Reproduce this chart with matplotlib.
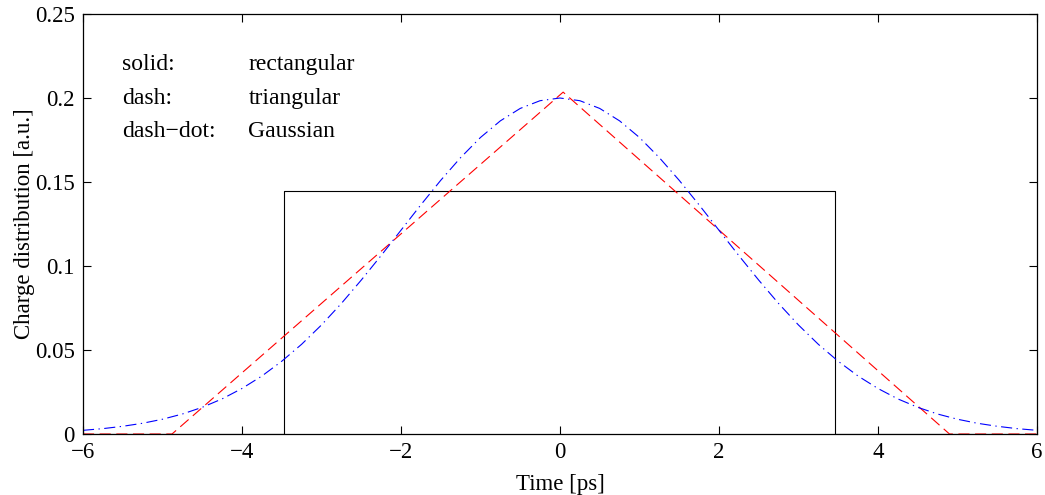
import numpy as np
import matplotlib
matplotlib.use("Agg")
import matplotlib.pyplot as plt

plt.rcParams["font.family"] = ["Liberation Serif", "DejaVu Serif"]

# rectangular profile (solid black)
rect_t = [-6.0, -3.47, -3.47, 3.46, 3.46, 6.0]
rect_q = [0.0, 0.0, 0.1445, 0.1445, 0.0, 0.0]

# triangular profile (dashed red)
tri_t = [-6.0, -4.88, 0.04, 4.9, 6.0]
tri_q = [0.0, 0.0, 0.2035, 0.0, 0.0]

# gaussian profile (dash-dot blue), read every 0.25 ps
gauss_t = [-6.0 + 0.25 * k for k in range(49)]
gauss_half = [0.0022, 0.0032, 0.0046, 0.0064, 0.0088, 0.0119, 0.0159, 0.0209,
              0.0271, 0.0345, 0.0433, 0.0534, 0.0649, 0.0777, 0.0916, 0.1062,
              0.1213, 0.1364, 0.1510, 0.1645, 0.1765, 0.1864, 0.1938, 0.1984]
gauss_q = gauss_half + [0.2000] + gauss_half[::-1]

x_ticks = [-6, -4, -2, 0, 2, 4, 6]
x_labels = ["\u22126", "\u22124", "\u22122", "0", "2", "4", "6"]
y_ticks = [0, 0.05, 0.1, 0.15, 0.2, 0.25]
y_labels = ["0", "0.05", "0.1", "0.15", "0.2", "0.25"]

notes = [("solid:", "rectangular"), ("dash:", "triangular"), ("dash\u2212dot:", "Gaussian")]
note_y = [0.22, 0.2, 0.18]

fig = plt.figure(figsize=(10.45, 4.95), dpi=100)
ax = fig.add_axes([0.0794, 0.1232, 0.9129, 0.8485])

ax.plot(rect_t, rect_q, color="black", lw=0.8)
ax.plot(tri_t, tri_q, color="red", lw=0.8, linestyle=(0, (10, 5)))
ax.plot(gauss_t, gauss_q, color="blue", lw=0.8, linestyle=(0, (10, 4, 1.2, 4)))

for (a, b), yy in zip(notes, note_y):
    ax.text(-5.51, yy, a, fontsize=17, va="center", ha="left")
    ax.text(-3.92, yy, b, fontsize=17, va="center", ha="left")

ax.set_xlim(-6, 6)
ax.set_ylim(0, 0.25)
ax.set_xticks(x_ticks)
ax.set_xticklabels(x_labels)
ax.set_yticks(y_ticks)
ax.set_yticklabels(y_labels)
ax.tick_params(direction="in", top=True, right=True, labelsize=16.5, length=6, width=0.8)
ax.tick_params(axis="x", pad=6)
ax.tick_params(axis="y", pad=6)
for s in ax.spines.values():
    s.set_linewidth(0.9)

ax.set_xlabel("Time [ps]", fontsize=16.5, labelpad=8)
ax.set_ylabel("Charge distribution [a.u.]", fontsize=16.5, labelpad=0)

fig.savefig("out.png", dpi=100)
